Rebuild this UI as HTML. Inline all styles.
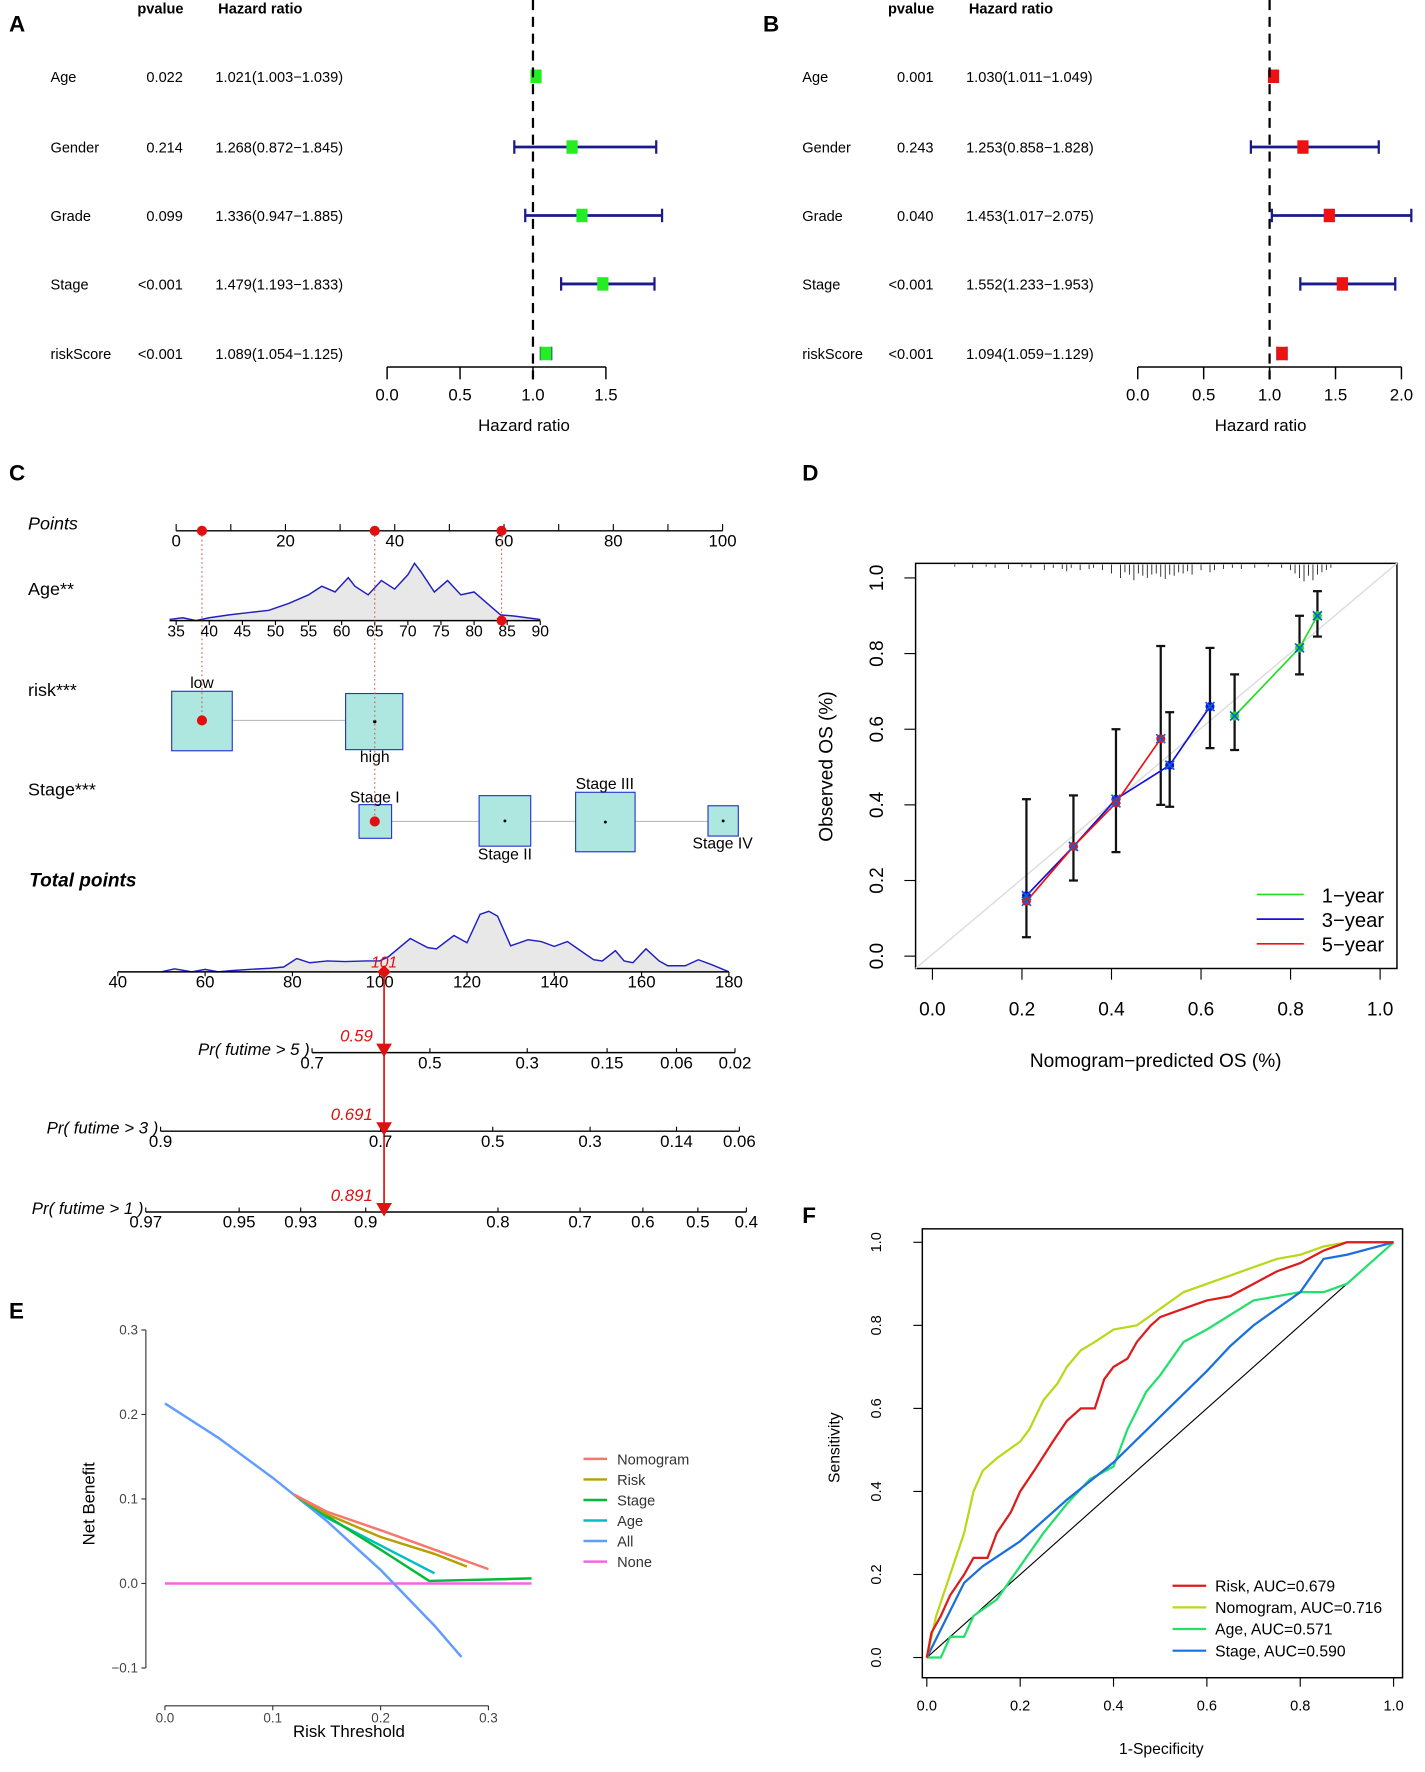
<!DOCTYPE html>
<html><head><meta charset="utf-8">
<style>
html,body{margin:0;padding:0;background:#fff;}
svg{display:block;font-family:"Liberation Sans",Arial,sans-serif;}
</style></head>
<body>
<svg id="fig" width="1425" height="1772" viewBox="0 0 1270 1579" preserveAspectRatio="none" xmlns="http://www.w3.org/2000/svg">
<g id="gA"></g>
<g id="gB"></g>
<g id="gC"></g>
<g id="gD"></g>
<g id="gE"></g>
<g id="gF"></g>
</svg>
<script>
// ---------- data ----------
const forestVars = ["Age","Gender","Grade","Stage","riskScore"];
const pvalA = ["0.022","0.214","0.099","<0.001","<0.001"];
const hrA = [1.021,1.268,1.336,1.479,1.089];
const loA = [1.003,0.872,0.947,1.193,1.054];
const hiA = [1.039,1.845,1.885,1.833,1.125];
const pvalB = ["0.001","0.243","0.040","<0.001","<0.001"];
const hrB = [1.030,1.253,1.453,1.552,1.094];
const loB = [1.011,0.858,1.017,1.233,1.059];
const hiB = [1.049,1.828,2.075,1.953,1.129];
const ticksA = [0,0.5,1.0,1.5];
const ticksB = [0,0.5,1.0,1.5,2.0];

const pointsTicks = [0,20,40,60,80,100];
const ageTicks = [35,40,45,50,55,60,65,70,75,80,85,90];
const ageDensX = [34,36,38,40,43,46,49,52,55,57,59,61,62,64,66,68,70,71,72,74,76,78,80,82,84,86,88,90];
const ageDensY = [0.02,0.05,0,0.05,0.1,0.14,0.18,0.3,0.45,0.6,0.5,0.75,0.6,0.45,0.7,0.55,0.8,1.0,0.85,0.5,0.7,0.45,0.5,0.3,0.1,0.08,0.05,0.02];
const totalTicks = [40,60,80,100,120,140,160,180];
const totDensX = [50,53,57,60,63,66,70,75,78,81,84,88,92,97,100,102,107,111,113,117,120,123,125,127,130,134,137,140,143,146,149,151,154,156,158,161,164,166,170,173,176,180];
const totDensY = [0,0.05,0,0.04,0,0.02,0.04,0.06,0.08,0.22,0.15,0.18,0.17,0.18,0.18,0.25,0.55,0.4,0.38,0.6,0.48,0.95,1.0,0.92,0.43,0.53,0.5,0.42,0.5,0.35,0.2,0.18,0.35,0.18,0.15,0.38,0.18,0.1,0.1,0.2,0.12,0];
const pr5Labels = ["0.7","0.5","0.3","0.15","0.06","0.02"];
const pr5Pts = [84.5,111.5,133.8,152.1,168,181.4];
const pr3Labels = ["0.9","0.7","0.5","0.3","0.14","0.06"];
const pr3Pts = [49.8,100.2,125.9,148.2,168,182.4];
const pr1Labels = ["0.97","0.95","0.93","0.9","0.8","0.7","0.6","0.5","0.4"];
const pr1Pts = [46.4,67.8,81.9,96.8,127.1,145.9,160.3,172.9,184];
const totalScore = 101;

const calX5 = [0.21,0.315,0.41,0.51];
const calY5 = [0.145,0.29,0.405,0.575];
const calX3 = [0.21,0.315,0.41,0.53,0.62];
const calY3 = [0.16,0.29,0.415,0.505,0.66];
const calX1 = [0.675,0.82,0.86];
const calY1 = [0.635,0.815,0.9];
const errX = [0.21,0.315,0.41,0.51,0.53,0.62,0.675,0.82,0.86];
const errLo = [0.05,0.2,0.275,0.4,0.395,0.55,0.545,0.745,0.845];
const errHi = [0.415,0.425,0.6,0.82,0.645,0.815,0.745,0.9,0.965];
const rugX = [0.05,0.09,0.12,0.14,0.17,0.2,0.22,0.25,0.27,0.29,0.3,0.31,0.33,0.35,0.36,0.38,0.4,0.42,0.43,0.44,0.45,0.46,0.47,0.48,0.49,0.5,0.51,0.52,0.53,0.54,0.55,0.56,0.57,0.58,0.6,0.62,0.63,0.65,0.67,0.69,0.72,0.75,0.78,0.8,0.81,0.82,0.83,0.84,0.85,0.86,0.87,0.88,0.89];
const rugH = [2,3,2,3,4,2,3,5,3,4,6,3,5,4,3,5,8,12,7,9,14,8,10,12,9,8,11,13,9,10,7,8,6,9,5,7,5,4,3,4,3,2,3,5,8,12,15,10,14,9,7,5,3];
const calTicks = [0,0.2,0.4,0.6,0.8,1.0];

const dcaX_all = [0,0.05,0.1,0.15,0.2,0.25,0.275];
const dcaY_all = [0.213,0.172,0.125,0.074,0.016,-0.05,-0.087];
const dcaX_nomo = [0.12,0.15,0.2,0.25,0.3];
const dcaY_nomo = [0.105,0.085,0.063,0.04,0.017];
const dcaX_risk = [0.12,0.15,0.2,0.25,0.28];
const dcaY_risk = [0.105,0.082,0.055,0.035,0.02];
const dcaX_stage = [0.12,0.15,0.2,0.245,0.34];
const dcaY_stage = [0.105,0.08,0.04,0.003,0.006];
const dcaX_age = [0.12,0.15,0.2,0.25];
const dcaY_age = [0.105,0.078,0.045,0.012];
const dcaX_none = [0,0.34];
const dcaY_none = [0,0];
const dcaYTicks = [-0.1,0,0.1,0.2,0.3];
const dcaXTicks = [0,0.1,0.2,0.3];

const rocRiskX = [0,0.01,0.03,0.05,0.08,0.1,0.13,0.15,0.18,0.2,0.23,0.27,0.3,0.33,0.36,0.38,0.4,0.43,0.45,0.48,0.5,0.55,0.6,0.65,0.7,0.75,0.8,0.85,0.9,1];
const rocRiskY = [0,0.06,0.1,0.15,0.2,0.24,0.24,0.3,0.35,0.4,0.45,0.52,0.57,0.6,0.6,0.67,0.7,0.72,0.76,0.8,0.82,0.84,0.86,0.87,0.9,0.93,0.95,0.98,1,1];
const rocNomoX = [0,0.02,0.05,0.08,0.1,0.12,0.15,0.2,0.22,0.25,0.28,0.3,0.33,0.36,0.4,0.45,0.5,0.55,0.6,0.65,0.7,0.75,0.8,0.85,0.9,1];
const rocNomoY = [0,0.1,0.2,0.3,0.4,0.45,0.48,0.52,0.55,0.62,0.66,0.7,0.74,0.76,0.79,0.8,0.84,0.88,0.9,0.92,0.94,0.96,0.97,0.99,1,1];
const rocAgeX = [0,0.03,0.05,0.08,0.1,0.15,0.2,0.25,0.3,0.35,0.4,0.43,0.47,0.5,0.55,0.6,0.7,0.8,0.85,0.9,0.95,1];
const rocAgeY = [0,0,0.05,0.05,0.1,0.14,0.22,0.3,0.37,0.43,0.46,0.55,0.64,0.68,0.76,0.79,0.86,0.88,0.88,0.9,0.95,1];
const rocStageX = [0,0.08,0.12,0.2,0.3,0.4,0.5,0.6,0.65,0.7,0.8,0.85,0.9,1];
const rocStageY = [0,0.18,0.22,0.28,0.38,0.47,0.58,0.69,0.75,0.8,0.88,0.96,0.97,1];
const rocTicks = [0,0.2,0.4,0.6,0.8,1.0];
const rocLegend = ["Risk, AUC=0.679","Nomogram, AUC=0.716","Age, AUC=0.571","Stage, AUC=0.590"];

// ---------- helpers ----------
const NS="http://www.w3.org/2000/svg";
function mk(parent,tag,attrs,text){const e=document.createElementNS(NS,tag);for(const k in attrs)e.setAttribute(k,attrs[k]);if(text!==undefined)e.textContent=text;parent.appendChild(e);return e;}
function txt(p,x,y,s,size,extra){const a={x:x,y:y,"font-size":size};Object.assign(a,extra||{});return mk(p,"text",a,s);}
function poly(p,xs,ys,sx,sy,stroke,w){return mk(p,"polyline",{points:xs.map((v,i)=>sx(v)+","+sy(ys[i])).join(" "),fill:"none",stroke:stroke,"stroke-width":w});}

// ---------- forest ----------
function forest(gid,letter,lx,cfg){
  const g=document.getElementById(gid);
  const l=txt(g,lx,28,letter,20,{"font-weight":"bold"});
  
  
  txt(g,cfg.pvx,12,"pvalue",13,{"font-weight":"bold","text-anchor":"middle"});
  txt(g,cfg.hrx+40,12,"Hazard ratio",13,{"font-weight":"bold","text-anchor":"middle"});
  const sx=v=>cfg.x0+v*cfg.unit;
  const rows=[68,131,192,253,315];
  forestVars.forEach((v,i)=>{
    const y=rows[i];
    txt(g,cfg.lab,y+5,v,13);
    txt(g,cfg.pvr,y+5,cfg.p[i],13,{"text-anchor":"end"});
    txt(g,cfg.hrx,y+5,cfg.hr[i].toFixed(3)+"("+cfg.lo[i].toFixed(3)+"\u2212"+cfg.hi[i].toFixed(3)+")",13);
    const ci=mk(g,"line",{x1:sx(cfg.lo[i]),x2:sx(cfg.hi[i]),y1:y,y2:y,stroke:"#1a1a8c","stroke-width":2.5});
    
    
    mk(g,"line",{x1:sx(cfg.lo[i]),x2:sx(cfg.lo[i]),y1:y-6,y2:y+6,stroke:"#1a1a8c","stroke-width":2});
    mk(g,"line",{x1:sx(cfg.hi[i]),x2:sx(cfg.hi[i]),y1:y-6,y2:y+6,stroke:"#1a1a8c","stroke-width":2});
    const r=mk(g,"rect",{x:sx(cfg.hr[i])-5,y:y-6,width:10,height:12,fill:cfg.col});
    
    
  });
  mk(g,"line",{x1:sx(1),x2:sx(1),y1:0,y2:338,stroke:"#000","stroke-width":2,"stroke-dasharray":"9,6"});
  const ts=cfg.ticks;
  mk(g,"line",{x1:sx(ts[0]),x2:sx(ts[ts.length-1]),y1:327,y2:327,stroke:"#000","stroke-width":1.3});
  ts.forEach(t=>{mk(g,"line",{x1:sx(t),x2:sx(t),y1:327,y2:338,stroke:"#000","stroke-width":1.3});txt(g,sx(t),357,t.toFixed(1),15,{"text-anchor":"middle"});});
  const at=txt(g,sx(1)-8,384,"Hazard ratio",15,{"text-anchor":"middle"});
  
  
}
forest("gA","A",8,{pvx:143,pvr:163,hrx:192,lab:45,x0:345,unit:130,p:pvalA,hr:hrA,lo:loA,hi:hiA,ticks:ticksA,col:"#22ee22"});
forest("gB","B",680,{pvx:812,pvr:832,hrx:861,lab:715,x0:1014,unit:117.5,p:pvalB,hr:hrB,lo:loB,hi:hiB,ticks:ticksB,col:"#ee1111"});

// ---------- nomogram ----------
(function(){
  const g=document.getElementById("gC");
  txt(g,8,428,"C",20,{"font-weight":"bold"});
  const px=v=>157+v*4.87;
  txt(g,25,472,"Points",16,{"font-style":"italic"});
  mk(g,"line",{x1:px(0),x2:px(100),y1:473,y2:473,stroke:"#000","stroke-width":1.3});
  for(let t=0;t<=100;t+=10)mk(g,"line",{x1:px(t),x2:px(t),y1:467,y2:473,stroke:"#000"});
  pointsTicks.forEach(t=>txt(g,px(t),487,t,15,{"text-anchor":"middle"}));
  const ax=a=>157+(a-35)*5.9;
  txt(g,25,530,"Age**",16);
  const base=553, H=51;
  let d="M"+ax(ageDensX[0])+","+base+" "+ageDensX.map((a,i)=>"L"+ax(a)+","+(base-ageDensY[i]*H)).join(" ")+" L"+ax(ageDensX[ageDensX.length-1])+","+base+"Z";
  mk(g,"path",{d:d,fill:"#e8e8e8",stroke:"none"});
  poly(g,ageDensX,ageDensY,ax,v=>base-v*H,"#2020c0",1.3);
  mk(g,"line",{x1:ax(34),x2:ax(90),y1:base,y2:base,stroke:"#000","stroke-width":1.3});
  ageTicks.forEach(t=>{mk(g,"line",{x1:ax(t),x2:ax(t),y1:base,y2:base+4,stroke:"#000"});txt(g,ax(t),base+14,t,14,{"text-anchor":"middle"});});
  txt(g,25,620,"risk***",16);
  mk(g,"line",{x1:180,x2:334,y1:642,y2:642,stroke:"#bbb"});
  mk(g,"rect",{x:153,y:616,width:54,height:53,fill:"#aee6e0",stroke:"#2233cc"});
  mk(g,"rect",{x:308,y:618,width:51,height:50,fill:"#aee6e0",stroke:"#2233cc"});
  txt(g,180,613,"low",14,{"text-anchor":"middle"});
  txt(g,334,679,"high",14,{"text-anchor":"middle"});
  mk(g,"circle",{cx:334,cy:643,r:1.5,fill:"#000"});
  txt(g,25,709,"Stage***",16);
  mk(g,"line",{x1:334,x2:644,y1:732,y2:732,stroke:"#bbb"});
  [[320,717,29,30],[427,709,46,45],[513,706,53,53],[631,718,27,27]].forEach(b=>{mk(g,"rect",{x:b[0],y:b[1],width:b[2],height:b[3],fill:"#aee6e0",stroke:"#2233cc"});mk(g,"circle",{cx:b[0]+b[2]/2,cy:b[1]+b[3]/2,r:1.3,fill:"#000"});});
  txt(g,334,715,"Stage I",14,{"text-anchor":"middle"});
  txt(g,450,766,"Stage II",14,{"text-anchor":"middle"});
  txt(g,539,703,"Stage III",14,{"text-anchor":"middle"});
  txt(g,644,756,"Stage IV",14,{"text-anchor":"middle"});
  [[180,473,642],[334,473,732],[447,473,553]].forEach(l=>mk(g,"line",{x1:l[0],x2:l[0],y1:l[1],y2:l[2],stroke:"#d06060","stroke-dasharray":"1.5,2.5"}));
  [[180,473],[334,473],[447,473],[447,553],[180,642],[334,732]].forEach(c=>mk(g,"circle",{cx:c[0],cy:c[1],r:4.5,fill:"#e01010"}));
  txt(g,26,790,"Total points",17,{"font-weight":"bold","font-style":"italic"});
  const tx=v=>105+(v-40)*3.89;
  const tb=866, TH=54;
  let d2="M"+tx(totDensX[0])+","+tb+" "+totDensX.map((a,i)=>"L"+tx(a)+","+(tb-totDensY[i]*TH)).join(" ")+" L"+tx(180)+","+tb+"Z";
  mk(g,"path",{d:d2,fill:"#e8e8e8",stroke:"none"});
  poly(g,totDensX,totDensY,tx,v=>tb-v*TH,"#2020c0",1.3);
  mk(g,"line",{x1:tx(40),x2:tx(180),y1:tb,y2:tb,stroke:"#000","stroke-width":1.3});
  totalTicks.forEach(t=>{mk(g,"line",{x1:tx(t),x2:tx(t),y1:tb,y2:tb+4,stroke:"#000"});txt(g,tx(t),tb+14,t,15,{"text-anchor":"middle"});});
  const sx=tx(totalScore);
  txt(g,sx,862,String(totalScore),14,{"text-anchor":"middle",fill:"#e01010","font-style":"italic"});
  mk(g,"path",{d:`M${sx},${tb-6} L${sx+6},${tb} L${sx},${tb+6} L${sx-6},${tb}Z`,fill:"#e01010"});
  mk(g,"line",{x1:sx,x2:sx,y1:tb,y2:1078,stroke:"#e01010","stroke-width":1.5});
  const pr=[["Pr( futime > 5 )",938,pr5Labels,pr5Pts,"0.59"],["Pr( futime > 3 )",1008,pr3Labels,pr3Pts,"0.691"],["Pr( futime > 1 )",1080,pr1Labels,pr1Pts,"0.891"]];
  pr.forEach(p=>{
    const y=p[1],pts=p[3];
    mk(g,"line",{x1:tx(pts[0]),x2:tx(pts[pts.length-1]),y1:y,y2:y,stroke:"#000","stroke-width":1.3});
    pts.forEach((v,i)=>{mk(g,"line",{x1:tx(v),x2:tx(v),y1:y,y2:y-4,stroke:"#000"});txt(g,tx(v),y+14,p[2][i],15,{"text-anchor":"middle"});});
    txt(g,tx(pts[0])-2,y+2,p[0],15,{"font-style":"italic","text-anchor":"end"});
    txt(g,sx-10,y-10,p[4],15,{"text-anchor":"end",fill:"#e01010","font-style":"italic"});
    mk(g,"path",{d:`M${sx-7},${y-8} L${sx+7},${y-8} L${sx},${y+4}Z`,fill:"#e01010"});
  });
})();

// ---------- calibration ----------
(function(){
  const g=document.getElementById("gD");
  txt(g,715,428,"D",20,{"font-weight":"bold"});
  const sx=v=>831+v*399, sy=v=>852-v*337;
  mk(g,"rect",{x:816,y:502,width:429,height:361,fill:"none",stroke:"#000","stroke-width":1.3});
  mk(g,"line",{x1:816,y1:863,x2:1245,y2:502,stroke:"#ddd","stroke-width":1.3});
  rugX.forEach((v,i)=>mk(g,"line",{x1:sx(v),x2:sx(v),y1:503,y2:503+rugH[i],stroke:"#222","stroke-width":0.8}));
  calTicks.forEach(t=>{
    mk(g,"line",{x1:sx(t),x2:sx(t),y1:863,y2:873,stroke:"#000"});
    txt(g,sx(t),905,t.toFixed(1),17,{"text-anchor":"middle"});
    mk(g,"line",{x1:806,x2:816,y1:sy(t),y2:sy(t),stroke:"#000"});
    txt(g,0,0,t.toFixed(1),17,{"text-anchor":"middle",transform:`translate(787,${sy(t)}) rotate(-90)`});
  });
  txt(g,1030,951,"Nomogram\u2212predicted OS (%)",17,{"text-anchor":"middle"});
  txt(g,0,0,"Observed OS (%)",17,{"text-anchor":"middle",transform:"translate(742,683) rotate(-90)"});
  errX.forEach((x,i)=>{
    const e=mk(g,"line",{x1:sx(x),x2:sx(x),y1:sy(errLo[i]),y2:sy(errHi[i]),stroke:"#111","stroke-width":2});
    
    
    mk(g,"line",{x1:sx(x)-4,x2:sx(x)+4,y1:sy(errLo[i]),y2:sy(errLo[i]),stroke:"#111","stroke-width":2});
    mk(g,"line",{x1:sx(x)-4,x2:sx(x)+4,y1:sy(errHi[i]),y2:sy(errHi[i]),stroke:"#111","stroke-width":2});
  });
  [[calX1,calY1,"#22dd22"],[calX3,calY3,"#1010dd"],[calX5,calY5,"#ee1111"]].forEach(s=>{
    const l=poly(g,s[0],s[1],sx,sy,s[2],1.5);
    
    
    s[0].forEach((x,i)=>{mk(g,"circle",{cx:sx(x),cy:sy(s[1][i]),r:4,fill:s[2]});
      mk(g,"path",{d:`M${sx(x)-4},${sy(s[1][i])-4}l8,8m0,-8l-8,8`,stroke:"#1060d0","stroke-width":1.5});});
  });
  [["1\u2212year","#22dd22",797],["3\u2212year","#1010dd",819],["5\u2212year","#ee1111",841]].forEach(l=>{
    mk(g,"line",{x1:1120,x2:1162,y1:l[2],y2:l[2],stroke:l[1],"stroke-width":1.5});
    txt(g,1178,l[2]+7,l[0],18);
  });
})();

// ---------- DCA ----------
(function(){
  const g=document.getElementById("gE");
  txt(g,8,1175,"E",20,{"font-weight":"bold"});
  const sx=v=>147+v*961, sy=v=>1411-v*753;
  mk(g,"line",{x1:130,x2:130,y1:sy(0.3),y2:sy(-0.1),stroke:"#333"});
  mk(g,"line",{x1:sx(0),x2:sx(0.3),y1:1520,y2:1520,stroke:"#333"});
  dcaYTicks.forEach(t=>{mk(g,"line",{x1:126,x2:130,y1:sy(t),y2:sy(t),stroke:"#333"});txt(g,123,sy(t)+4,t===0?"0.0":(t<0?"\u22120.1":t.toFixed(1)),12,{"text-anchor":"end",fill:"#444"});});
  dcaXTicks.forEach(t=>{mk(g,"line",{x1:sx(t),x2:sx(t),y1:1520,y2:1524,stroke:"#333"});txt(g,sx(t),1535,t.toFixed(1),12,{"text-anchor":"middle",fill:"#444"});});
  txt(g,311,1548,"Risk Threshold",15,{"text-anchor":"middle"});
  txt(g,0,0,"Net Benefit",15,{"text-anchor":"middle",transform:"translate(84,1340) rotate(-90)"});
  const series=[[dcaX_none,dcaY_none,"#f564e3"],[dcaX_all,dcaY_all,"#619cff"],[dcaX_age,dcaY_age,"#00bfc4"],[dcaX_stage,dcaY_stage,"#00ba38"],[dcaX_risk,dcaY_risk,"#b79f00"],[dcaX_nomo,dcaY_nomo,"#f8766d"]];
  series.forEach(s=>{const l=poly(g,s[0],s[1],sx,sy,s[2],2.2);
    
    });
  [["Nomogram","#f8766d"],["Risk","#b79f00"],["Stage","#00ba38"],["Age","#00bfc4"],["All","#619cff"],["None","#f564e3"]].forEach((l,i)=>{
    const y=1300+i*18.3;
    mk(g,"line",{x1:520,x2:541,y1:y,y2:y,stroke:l[1],"stroke-width":2.2});
    txt(g,550,y+5,l[0],13,{fill:"#333"});
  });
})();

// ---------- ROC ----------
(function(){
  const g=document.getElementById("gF");
  txt(g,715,1090,"F",20,{"font-weight":"bold"});
  const sx=v=>826+v*416, sy=v=>1477-v*370;
  mk(g,"rect",{x:822,y:1095,width:428,height:400,fill:"none",stroke:"#000","stroke-width":1.3});
  mk(g,"line",{x1:sx(0),y1:sy(0),x2:sx(1),y2:sy(1),stroke:"#000"});
  rocTicks.forEach(t=>{
    mk(g,"line",{x1:sx(t),x2:sx(t),y1:1495,y2:1503,stroke:"#000"});
    txt(g,sx(t),1524,t.toFixed(1),13,{"text-anchor":"middle"});
    mk(g,"line",{x1:814,x2:822,y1:sy(t),y2:sy(t),stroke:"#000"});
    txt(g,0,0,t.toFixed(1),13,{"text-anchor":"middle",transform:`translate(785,${sy(t)}) rotate(-90)`});
  });
  txt(g,1035,1563,"1-Specificity",14,{"text-anchor":"middle"});
  txt(g,0,0,"Sensitivity",14,{"text-anchor":"middle",transform:"translate(748,1290) rotate(-90)"});
  const series=[[rocAgeX,rocAgeY,"#22e06a"],[rocStageX,rocStageY,"#1a6fdc"],[rocNomoX,rocNomoY,"#b8d81a"],[rocRiskX,rocRiskY,"#dd1c1c"]];
  series.forEach(s=>{const l=poly(g,s[0],s[1],sx,sy,s[2],2);
    
    });
  const cols=["#dd1c1c","#b8d81a","#22e06a","#1a6fdc"];
  rocLegend.forEach((t,i)=>{
    const y=1413+i*19.3;
    mk(g,"line",{x1:1045,x2:1075,y1:y,y2:y,stroke:cols[i],"stroke-width":2});
    txt(g,1083,y+5,t,14);
  });
})();
</script>
</body></html>
